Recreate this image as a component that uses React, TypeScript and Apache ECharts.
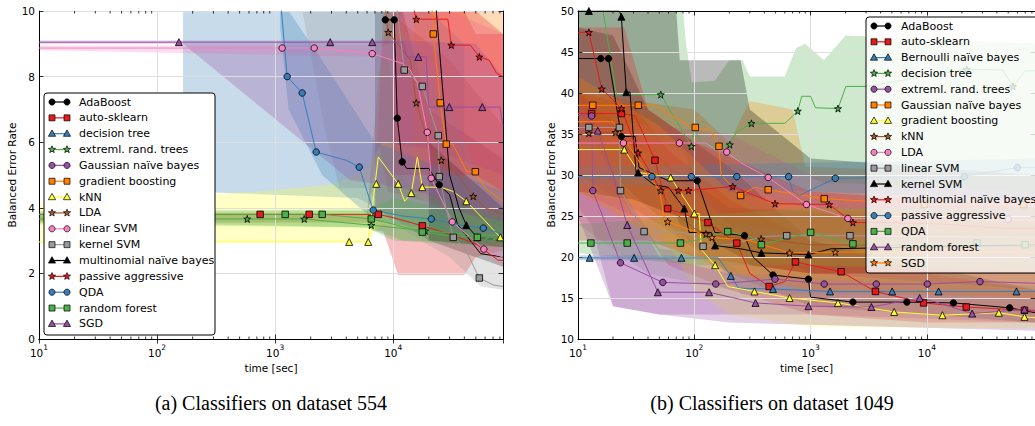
import React, { useEffect, useRef } from "react";
import * as echarts from "echarts";

type P = [number, number];
type B = [number, number, number];

const NAMES_A = ["AdaBoost", "auto-sklearn", "decision tree", "extreml. rand. trees", "Gaussian naïve bayes", "gradient boosting", "kNN", "LDA", "linear SVM", "kernel SVM", "multinomial naïve bayes", "passive aggressive", "QDA", "random forest", "SGD"];
const NAMES_B = ["AdaBoost", "auto-sklearn", "Bernoulli naïve bayes", "decision tree", "extreml. rand. trees", "Gaussian naïve bayes", "gradient boosting", "kNN", "LDA", "linear SVM", "kernel SVM", "multinomial naïve bayes", "passive aggressive", "QDA", "random forest", "SGD"];

const Y_A = { min: 0, max: 10, interval: 2 };
const Y_B = { min: 10, max: 50, interval: 5 };
const X_RANGE = { min: 10, max: 85000 };
const MINOR_TICKS = [20, 30, 40, 50, 60, 70, 80, 90, 200, 300, 400, 500, 600, 700, 800, 900, 2000, 3000, 4000, 5000, 6000, 7000, 8000, 9000, 20000, 30000, 40000, 50000, 60000, 70000, 80000];

// ---------- dataset 554 ----------
const A_ADA_L: P[] = [[8560, 9.73], [10190, 9.73], [10810, 6.73], [11910, 5.4], [13000, 5.2], [20000, 5.2], [24530, 4.7], [30000, 4.4], [35000, 3.5], [45000, 3.0], [55000, 2.6], [85000, 2.5]];
const A_ADA_M: P[] = [[8560, 9.73], [10190, 9.73], [10810, 6.73], [11910, 5.4], [24530, 4.7]];
const A_ADA_B: B[] = [[7000, 4.0, 10.5], [12000, 3.5, 10.5], [20000, 3.0, 7.0], [85000, 2.2, 5.5]];

const A_ASK_L: P[] = [[10, 3.8], [7470, 3.8], [10000, 3.7], [17620, 3.45], [30000, 3.2], [50000, 2.9], [77600, 2.4], [85000, 2.4]];
const A_ASK_M: P[] = [[746, 3.8], [1942, 3.8], [7470, 3.8], [17620, 3.45]];
const A_ASK_B: B[] = [[7000, 3.3, 4.0], [8200, 3.3, 10.5], [11000, 1.95, 10.5], [40000, 1.95, 10.5], [50000, 2.5, 9.3], [85000, 2.7, 9.3]];

const A_DT_L: P[] = [[166, 11], [85000, 11]];
const A_DT_M: P[] = [];
const A_DT_B: B[] = [[166, 7.1, 12], [175, 4.5, 12], [5000, 4.3, 12], [8000, 3.9, 12], [20000, 3.5, 11], [40000, 3.3, 9]];

const A_ERT_L: P[] = [[10, 3.66], [1762, 3.66], [6511, 3.47], [18670, 3.3], [40000, 3.2], [85000, 3.15]];
const A_ERT_M: P[] = [[580, 3.66], [1762, 3.66], [6511, 3.47], [18670, 3.3]];
const A_ERT_B: B[] = [[10, 3.5, 3.85], [6000, 3.4, 3.9], [12000, 3.0, 3.8], [85000, 2.9, 3.5]];

const A_GNB_L: P[] = [[5000, 11], [85000, 11]];
const A_GNB_M: P[] = [];
const A_GNB_B: B[] = [[5000, 10.5, 12], [85000, 10.5, 12]];

const A_GB_L: P[] = [[21000, 10.5], [21830, 9.3], [25010, 7.2], [28120, 5.94], [32000, 5.94], [42000, 5.1], [49540, 5.1], [60000, 4.6], [85000, 4.2]];
const A_GB_M: P[] = [[21830, 9.3], [25010, 7.2], [28120, 5.94], [49540, 5.1]];
const A_GB_B: B[] = [[15000, 4.5, 12], [40000, 3.5, 12], [85000, 3.0, 10]];

const A_KNN_L: P[] = [[10, 2.96], [6141, 2.96], [7470, 5.55], [11020, 4.73], [12500, 4.2], [14210, 4.45], [16000, 5.55], [17620, 4.63], [25000, 4.63], [32000, 4.5], [41570, 4.2], [60000, 3.6], [80700, 3.1], [85000, 3.05]];
const A_KNN_M: P[] = [[4237, 2.96], [6141, 2.96], [7180, 4.73], [11020, 4.73], [14210, 4.45], [17620, 4.63], [41570, 4.2], [80700, 3.1]];
const A_KNN_B: B[] = [[10, 2.96, 4.1], [700, 2.96, 4.5], [3000, 2.96, 4.7], [6000, 2.96, 5.2], [8000, 3.5, 6.0], [20000, 3.3, 5.8], [85000, 3.0, 5.0]];

const A_LDA_L: P[] = [[8000, 11], [9070, 9.35], [12000, 8.8], [14000, 8.5], [15670, 7.2], [18000, 6.5], [20000, 5.9], [25510, 5.45], [35000, 5.0], [47650, 4.35], [60000, 4.0], [85000, 3.8]];
const A_LDA_M: P[] = [[9070, 9.35], [15670, 7.2], [25510, 5.45], [47650, 4.35]];
const A_LDA_B: B[] = [[10, 3.55, 3.8], [6000, 3.55, 3.8], [7500, 6.0, 8.0], [9000, 4.5, 10.5], [30000, 4.0, 8.5], [85000, 3.4, 6.5]];

const A_LSVM_L: P[] = [[10, 8.87], [2141, 8.87], [5000, 8.75], [6640, 8.7], [12000, 8.4], [13930, 8.2], [16000, 7.8], [19420, 6.3], [20990, 4.9], [31600, 3.57], [45000, 3.1], [58500, 2.74], [70000, 2.6], [85000, 2.5]];
const A_LSVM_M: P[] = [[1146, 8.87], [2141, 8.87], [6640, 8.7], [19420, 6.3], [20990, 4.9], [31600, 3.57], [58500, 2.74]];
const A_LSVM_B: B[] = [[10, 8.8, 8.95], [9000, 8.6, 8.95], [12000, 5.0, 10.5], [30000, 3.2, 10.5], [85000, 2.2, 9.3]];

const A_KSVM_L: P[] = [[10000, 11], [12390, 8.2], [17620, 7.7], [24060, 6.2], [24530, 4.95], [28000, 4.0], [32240, 3.1], [40000, 2.8], [53570, 1.86], [70000, 1.65], [85000, 1.6]];
const A_KSVM_M: P[] = [[12390, 8.2], [17620, 7.7], [24060, 6.2], [24530, 4.95], [32240, 3.1], [53570, 1.86]];
const A_KSVM_B: B[] = [[1700, 10.5, 12], [2600, 6.5, 12], [3500, 4.6, 12], [6000, 4.6, 12], [10000, 3.5, 10], [30000, 2.5, 7], [55000, 1.6, 5], [85000, 1.5, 4]];

const A_MNB_L: P[] = [[22000, 11], [30000, 5.0], [36000, 4.0], [41570, 3.47], [51520, 3.1], [85000, 3.0]];
const A_MNB_M: P[] = [[41570, 3.47], [51520, 3.1]];
const A_MNB_B: B[] = [[20000, 3.0, 6], [85000, 2.8, 4]];

const A_PA_L: P[] = [[14000, 10.5], [15670, 9.75], [29000, 9.75], [31030, 8.96], [45000, 8.96], [53570, 8.6], [65000, 8.5], [75000, 8.1], [85000, 8.0]];
const A_PA_M: P[] = [[15670, 9.75], [31030, 8.96], [53570, 8.6]];
const A_PA_B: B[] = [[10000, 5, 12], [50000, 5, 10], [85000, 4.5, 9.3]];

const A_QDA_L: P[] = [[1100, 10.5], [1264, 8.0], [1694, 7.5], [2225, 5.7], [4000, 5.45], [5153, 5.24], [6000, 4.5], [6770, 3.93], [12000, 3.75], [20990, 3.66], [40000, 3.45], [57900, 3.38], [85000, 3.2]];
const A_QDA_M: P[] = [[1264, 8.0], [1694, 7.5], [2225, 5.7], [5153, 5.24], [6770, 3.93], [20990, 3.66], [57900, 3.38]];
const A_QDA_B: B[] = [[1100, 9.5, 11], [1300, 7.0, 10.5], [2500, 5.0, 8.5], [7000, 3.6, 6.0], [85000, 3.0, 4.5]];

const A_RF_L: P[] = [[10, 3.8], [2502, 3.8], [6511, 3.66], [10000, 3.5], [17620, 3.26], [30000, 3.15], [51520, 3.1], [85000, 3.0]];
const A_RF_M: P[] = [[1216, 3.8], [2502, 3.8], [6511, 3.66], [17620, 3.26], [51520, 3.1]];
const A_RF_B: B[] = [[10, 3.6, 3.9], [6000, 3.4, 3.95], [10000, 3.0, 4.3], [85000, 2.8, 3.6]];

const A_SGD_L: P[] = [[10, 9.05], [12150, 9.05], [13000, 8.6], [19000, 8.6], [20000, 7.07], [80000, 7.07], [85000, 6.5]];
const A_SGD_M: P[] = [[153, 9.05], [2925, 9.05], [6640, 9.05], [16290, 8.6], [29840, 7.07], [56760, 7.07]];
const A_SGD_B: B[] = [[10, 9.0, 9.1], [160, 9.0, 9.1], [166, 9.0, 9.1], [4300, 4.85, 9.1], [12000, 4.6, 9.1], [50000, 4.0, 9.0], [85000, 3.8, 8.0]];

// ---------- dataset 1049 ----------
const B_ADA_L: P[] = [[10, 44.2], [18.3, 44.2], [23.6, 34.7], [31, 34.7], [33.5, 30.9], [60, 29.3], [106, 29.3], [150, 23], [270, 22.6], [320, 20], [475, 17.8], [958, 17.3], [1000, 15.1], [2310, 14.5], [6730, 14.5], [16900, 14.4], [51500, 13.8], [85000, 13.2]];
const B_ADA_M: P[] = [[15.7, 44.2], [18.3, 44.2], [23.6, 34.7], [106, 29.3], [270, 22.6], [475, 17.8], [958, 17.3], [2310, 14.5], [6730, 14.5], [16900, 14.4], [51500, 13.8]];
const B_ADA_B: B[] = [[10, 38, 48], [20, 30, 47], [40, 26, 38], [200, 18, 31], [1000, 14, 22], [85000, 12, 16]];

const B_ASK_L: P[] = [[10, 37.5], [23.6, 37.5], [31, 37.2], [45.9, 31.8], [59, 25.9], [131, 24.2], [232, 21.7], [300, 18], [440, 16.4], [600, 17], [740, 19.4], [1000, 19], [1830, 18.2], [3610, 15.8], [9370, 14.4], [21800, 13.9], [69000, 13.5], [85000, 13.4]];
const B_ASK_M: P[] = [[13.1, 37.5], [23.6, 37.5], [45.9, 31.8], [59, 25.9], [131, 24.2], [232, 21.7], [440, 16.4], [740, 19.4], [1830, 18.2], [3610, 15.8], [9370, 14.4], [21800, 13.9], [69000, 13.5]];
const B_ASK_B: B[] = [[10, 28, 40], [30, 25, 38.5], [60, 19, 33], [200, 16, 27], [1000, 13, 22], [10000, 12, 18], [85000, 12, 16]];

const B_BNB_L: P[] = [[10, 19.9], [160, 19.9], [206, 17.7], [240, 16.2], [475, 16.1], [1470, 15.8], [85000, 15.8]];
const B_BNB_M: P[] = [[12.6, 19.9], [30.4, 19.9], [77.5, 19.9], [206, 17.7], [475, 16.1], [1470, 15.8], [5030, 15.8], [12600, 15.8], [58900, 15.8]];
const B_BNB_B: B[] = [[10, 19.6, 20.2], [150, 19.6, 20.2], [250, 15.5, 18], [85000, 15.3, 16.5]];

const B_DT_L: P[] = [[16, 51], [21.4, 39.8], [51.5, 39.8], [94.3, 33.5], [100, 35.5], [115, 34], [150, 33.5], [202, 33.7], [230, 35.2], [310, 36.3], [600, 36.3], [776, 37.8], [838, 39.6], [1000, 39.6], [1100, 38.2], [1720, 38.1], [2010, 40.8], [3000, 40.8], [15000, 42.5], [22000, 42.9], [45000, 42.8], [55000, 40.8], [70000, 42.7], [85000, 42.7]];
const B_DT_M: P[] = [[51.5, 39.8], [94.3, 33.5], [202, 33.7], [310, 36.3], [776, 37.8], [1720, 38.1], [22000, 42.9], [55000, 40.8]];
const B_DT_B: B[] = [[10, 38, 52], [80, 33, 52], [85, 32, 46], [95, 30, 41.3], [150, 30, 41.5], [200, 30, 44], [260, 30, 44], [300, 30, 42], [600, 30, 42], [750, 30, 45.5], [900, 30, 46], [1300, 29, 44], [2000, 29, 47], [85000, 28, 46]];

const B_ERT_L: P[] = [[10, 37.3], [13.1, 37.2], [13.4, 28.1], [23.2, 19.3], [53.6, 16.9], [153, 16.7], [494, 17.3], [1310, 16.7], [3670, 16.7], [10100, 16.7], [28600, 17.0], [85000, 16.8]];
const B_ERT_M: P[] = [[13.1, 37.2], [13.4, 28.1], [23.2, 19.3], [53.6, 16.9], [153, 16.7], [494, 17.3], [1310, 16.7], [3670, 16.7], [10100, 16.7], [28600, 17.0]];
const B_ERT_B: B[] = [[10, 26, 40], [13, 24, 39], [20, 14, 30], [50, 13, 21], [1000, 13, 19], [85000, 12, 19]];

const B_GNB_L: P[] = [[10, 38.5], [45, 38.5], [90, 36], [102, 35.8], [140, 35.4], [163, 33.5], [170, 30], [250, 27.5], [330, 28.5], [432, 28.2], [1310, 27.1], [9500, 26.4], [85000, 26.4]];
const B_GNB_M: P[] = [[13.4, 38.5], [33, 38.5], [102, 35.8], [163, 33.5], [250, 27.5], [432, 28.2], [1310, 27.1], [9500, 26.4], [68000, 26.4]];
const B_GNB_B: B[] = [[10, 34, 40], [100, 30, 38], [200, 24, 34], [300, 24, 39], [700, 23, 38], [900, 23, 31], [85000, 22, 30]];

const B_GB_L: P[] = [[10, 33.1], [25, 33.1], [33.5, 30.3], [62.6, 29.7], [75, 28], [100, 25.3], [110, 25.3], [115, 20.9], [151, 19.0], [194, 16.4], [329, 15.8], [660, 15.0], [1720, 14.4], [5230, 13.3], [13600, 12.9], [41500, 13.2], [69000, 12.7], [85000, 12.6]];
const B_GB_M: P[] = [[25, 33.1], [62.6, 29.7], [100, 25.3], [151, 19.0], [329, 15.8], [660, 15.0], [1720, 14.4], [5230, 13.3], [13600, 12.9], [41500, 13.2], [69000, 12.7]];
const B_GB_B: B[] = [[10, 28, 36], [40, 26, 33], [100, 16, 28], [200, 13, 24], [1000, 11.5, 18], [85000, 11.3, 16]];

const B_KNN_L: P[] = [[10, 35.1], [21, 35.2], [51.5, 28.1], [60, 26], [100, 23.5], [126, 22.8], [200, 22.4], [376, 22.2], [1000, 21.5], [85000, 21.3]];
const B_KNN_M: P[] = [[12.4, 35.1], [21, 35.2], [51.5, 28.1], [126, 22.8], [376, 22.2]];
const B_KNN_B: B[] = [[10, 30, 40], [50, 24, 32], [200, 18, 26], [85000, 16, 24]];

const B_LDA_L: P[] = [[10, 33.9], [125, 33.9], [150, 33.2], [190, 32.8], [250, 31.5], [432, 29.7], [921, 26.4], [2090, 24.7], [85000, 24.5]];
const B_LDA_M: P[] = [[24.6, 33.9], [74.5, 33.9], [190, 32.8], [432, 29.7], [921, 26.4], [2090, 24.7], [50000, 24.6]];
const B_LDA_B: B[] = [[10, 30, 37], [200, 28, 35], [1000, 22, 30], [85000, 21, 28]];

const B_LSVM_L: P[] = [[10, 35.8], [22.7, 35.8], [23.2, 28.1], [37, 23.1], [80, 23], [100, 22.5], [119, 21.3], [200, 21.5], [400, 22.5], [623, 22.6], [2180, 22.6], [85000, 22.4]];
const B_LSVM_M: P[] = [[12.4, 35.8], [22.7, 35.8], [23.2, 28.1], [37, 23.1], [119, 21.3], [623, 22.6], [2180, 22.6]];
const B_LSVM_B: B[] = [[10, 24, 38], [40, 18, 30], [200, 16, 26], [85000, 15, 25]];

const B_KSVM_L: P[] = [[10, 50], [22.7, 50], [23.6, 49.3], [26, 40.1], [28, 40.1], [31.6, 30.3], [32.9, 30.3], [45, 28.8], [60, 28.5], [82, 25.9], [90, 23], [140, 23], [151, 21.4], [250, 21], [377, 20.5], [958, 20.3], [1500, 21], [85000, 21.5]];
const B_KSVM_M: P[] = [[12.4, 50], [23.6, 49.3], [26, 40.1], [32.9, 30.3], [82, 25.9], [151, 21.4], [377, 20.5], [958, 20.3]];
const B_KSVM_B: B[] = [[10, 28, 52], [30, 27, 52], [70, 25, 52], [75, 24, 44], [250, 20, 44], [300, 19, 38], [1000, 18, 32], [85000, 18, 30]];

const B_MNB_L: P[] = [[10, 47.4], [12.4, 47.4], [16, 40.5], [23.6, 38.1], [32.9, 32.7], [35.5, 32], [50, 28.5], [73, 28.1], [89, 28.1], [214, 28.6], [494, 26.5], [1445, 26.4], [2310, 24.2], [4500, 24.2], [15000, 24], [45000, 23.5], [85000, 23.5]];
const B_MNB_M: P[] = [[12.4, 47.4], [16, 40.5], [23.6, 38.1], [32.9, 32.7], [73, 28.1], [89, 28.1], [214, 28.6], [494, 26.5], [1445, 26.4], [2310, 24.2]];
const B_MNB_B: B[] = [[10, 22, 48], [25, 22, 48], [40, 22, 38], [100, 20, 34], [1000, 18, 28], [85000, 18, 26]];

const B_PA_L: P[] = [[10, 29.8], [647, 29.8], [700, 28], [800, 27.5], [1630, 29.6], [20000, 29.8], [60000, 30.9], [85000, 30.9]];
const B_PA_M: P[] = [[43.2, 29.8], [94.3, 29.8], [232, 29.8], [647, 29.8], [1630, 29.6], [21000, 29.8], [60000, 30.9]];
const B_PA_B: B[] = [[10, 29, 31], [85000, 27, 32]];

const B_QDA_L: P[] = [[10, 21.7], [76, 21.7], [100, 22], [194, 23.1], [300, 22.5], [377, 21.5], [1000, 23], [2310, 21.6], [85000, 21.6]];
const B_QDA_M: P[] = [[12.9, 21.7], [26.5, 21.7], [76, 21.7], [194, 23.1], [377, 21.5], [1000, 23], [2310, 21.6], [27000, 21.7], [70000, 21.5]];
const B_QDA_B: B[] = [[10, 20.5, 24], [100, 19, 25], [1000, 19, 26], [85000, 18, 26]];

const B_RF_L: P[] = [[10, 35.4], [14.8, 35.4], [20, 30], [26.5, 23.9], [48.6, 15.7], [134, 15.7], [336, 14.4], [958, 14.0], [3330, 13.9], [8660, 15.0], [12000, 14.5], [24500, 13.1], [69000, 13.6], [85000, 13.5]];
const B_RF_M: P[] = [[14.8, 35.4], [26.5, 23.9], [48.6, 15.7], [134, 15.7], [336, 14.4], [958, 14.0], [3330, 13.9], [8660, 15.0], [24500, 13.1], [69000, 13.6]];
const B_RF_B: B[] = [[10, 25, 40], [20, 14, 30], [50, 13, 20], [200, 12, 18], [85000, 11, 16]];

const B_SGD_L: P[] = [[10, 36.5], [20, 36.5], [40, 30], [50, 28.2], [56, 24.3], [59, 24.3], [142, 22.4], [300, 22.0], [660, 20.5], [1630, 20.6], [85000, 20.6]];
const B_SGD_M: P[] = [[59, 24.3], [142, 22.4], [660, 20.5], [1630, 20.6]];
const B_SGD_B: B[] = [[10, 28, 42], [50, 22, 36], [200, 18, 28], [1000, 16, 26], [85000, 15, 25]];

// ---------- styles ----------
const C = { black: "#000000", red: "#e41a1c", blue: "#377eb8", green: "#4daf4a", purple: "#984ea3", orange: "#ff7f00", yellow: "#ffff33", brown: "#a65628", pink: "#f781bf", gray: "#999999" };
const STAR = "path://M50,0L61.8,35.1L98.1,35.1L68.8,56.8L79.4,91.4L50,70.2L20.6,91.4L31.2,56.8L1.9,35.1L38.2,35.1Z";
const FONT = "DejaVu Sans";

type Spec = { name: string; color: string; sym: string; line: P[]; marks: P[]; band: B[] };

const SPECS_A: Spec[] = [
  { name: NAMES_A[0], color: C.black, sym: "circle", line: A_ADA_L, marks: A_ADA_M, band: A_ADA_B },
  { name: NAMES_A[1], color: C.red, sym: "square", line: A_ASK_L, marks: A_ASK_M, band: A_ASK_B },
  { name: NAMES_A[2], color: C.blue, sym: "triangle", line: A_DT_L, marks: A_DT_M, band: A_DT_B },
  { name: NAMES_A[3], color: C.green, sym: "star", line: A_ERT_L, marks: A_ERT_M, band: A_ERT_B },
  { name: NAMES_A[4], color: C.purple, sym: "circle", line: A_GNB_L, marks: A_GNB_M, band: A_GNB_B },
  { name: NAMES_A[5], color: C.orange, sym: "square", line: A_GB_L, marks: A_GB_M, band: A_GB_B },
  { name: NAMES_A[6], color: C.yellow, sym: "triangle", line: A_KNN_L, marks: A_KNN_M, band: A_KNN_B },
  { name: NAMES_A[7], color: C.brown, sym: "star", line: A_LDA_L, marks: A_LDA_M, band: A_LDA_B },
  { name: NAMES_A[8], color: C.pink, sym: "circle", line: A_LSVM_L, marks: A_LSVM_M, band: A_LSVM_B },
  { name: NAMES_A[9], color: C.gray, sym: "square", line: A_KSVM_L, marks: A_KSVM_M, band: A_KSVM_B },
  { name: NAMES_A[10], color: C.black, sym: "triangle", line: A_MNB_L, marks: A_MNB_M, band: A_MNB_B },
  { name: NAMES_A[11], color: C.red, sym: "star", line: A_PA_L, marks: A_PA_M, band: A_PA_B },
  { name: NAMES_A[12], color: C.blue, sym: "circle", line: A_QDA_L, marks: A_QDA_M, band: A_QDA_B },
  { name: NAMES_A[13], color: C.green, sym: "square", line: A_RF_L, marks: A_RF_M, band: A_RF_B },
  { name: NAMES_A[14], color: C.purple, sym: "triangle", line: A_SGD_L, marks: A_SGD_M, band: A_SGD_B },
];

const SPECS_B: Spec[] = [
  { name: NAMES_B[0], color: C.black, sym: "circle", line: B_ADA_L, marks: B_ADA_M, band: B_ADA_B },
  { name: NAMES_B[1], color: C.red, sym: "square", line: B_ASK_L, marks: B_ASK_M, band: B_ASK_B },
  { name: NAMES_B[2], color: C.blue, sym: "triangle", line: B_BNB_L, marks: B_BNB_M, band: B_BNB_B },
  { name: NAMES_B[3], color: C.green, sym: "star", line: B_DT_L, marks: B_DT_M, band: B_DT_B },
  { name: NAMES_B[4], color: C.purple, sym: "circle", line: B_ERT_L, marks: B_ERT_M, band: B_ERT_B },
  { name: NAMES_B[5], color: C.orange, sym: "square", line: B_GNB_L, marks: B_GNB_M, band: B_GNB_B },
  { name: NAMES_B[6], color: C.yellow, sym: "triangle", line: B_GB_L, marks: B_GB_M, band: B_GB_B },
  { name: NAMES_B[7], color: C.brown, sym: "star", line: B_KNN_L, marks: B_KNN_M, band: B_KNN_B },
  { name: NAMES_B[8], color: C.pink, sym: "circle", line: B_LDA_L, marks: B_LDA_M, band: B_LDA_B },
  { name: NAMES_B[9], color: C.gray, sym: "square", line: B_LSVM_L, marks: B_LSVM_M, band: B_LSVM_B },
  { name: NAMES_B[10], color: C.black, sym: "triangle", line: B_KSVM_L, marks: B_KSVM_M, band: B_KSVM_B },
  { name: NAMES_B[11], color: C.red, sym: "star", line: B_MNB_L, marks: B_MNB_M, band: B_MNB_B },
  { name: NAMES_B[12], color: C.blue, sym: "circle", line: B_PA_L, marks: B_PA_M, band: B_PA_B },
  { name: NAMES_B[13], color: C.green, sym: "square", line: B_QDA_L, marks: B_QDA_M, band: B_QDA_B },
  { name: NAMES_B[14], color: C.purple, sym: "triangle", line: B_RF_L, marks: B_RF_M, band: B_RF_B },
  { name: NAMES_B[15], color: C.orange, sym: "star", line: B_SGD_L, marks: B_SGD_M, band: B_SGD_B },
];

const SYMBOL: Record<string, string> = { circle: "circle", square: "rect", triangle: "triangle", star: STAR };
const SYMBOL_SIZE: Record<string, number> = { circle: 6.5, square: 6.5, triangle: 7, star: 7 };

function starPts(cx: number, cy: number, r: number) {
  const pts: number[][] = [];
  for (let i = 0; i < 10; i++) {
    const a = -Math.PI / 2 + (i * Math.PI) / 5;
    const rr = i % 2 === 0 ? r : r * 0.42;
    pts.push([cx + rr * Math.cos(a), cy + rr * Math.sin(a)]);
  }
  return pts;
}

function markerGraphic(sym: string, cx: number, cy: number, fill: string) {
  const style = { fill, stroke: "#000", lineWidth: 0.7 };
  if (sym === "circle") return { type: "circle", shape: { cx, cy, r: 3.1 }, style, z: 102 };
  if (sym === "square") return { type: "rect", shape: { x: cx - 3, y: cy - 3, width: 6, height: 6 }, style, z: 102 };
  if (sym === "triangle") return { type: "polygon", shape: { points: [[cx, cy - 3.8], [cx + 3.6, cy + 2.6], [cx - 3.6, cy + 2.6]] }, style, z: 102 };
  return { type: "polygon", shape: { points: starPts(cx, cy, 3.8) }, style, z: 102 };
}

function legendGraphics(specs: Spec[], box: { x: number; y: number; w: number; h: number; fill: string }, row0: number, step: number, m1: number, m2: number, tx: number) {
  const els: any[] = [
    { type: "rect", shape: { x: box.x, y: box.y, width: box.w, height: box.h, r: 3 }, style: { fill: box.fill, stroke: "#000", lineWidth: 1 }, z: 100 },
  ];
  specs.forEach((s, i) => {
    const cy = row0 + i * step;
    els.push({ type: "line", shape: { x1: m1, y1: cy, x2: m2, y2: cy }, style: { stroke: s.color, lineWidth: 1.2 }, z: 101 });
    els.push(markerGraphic(s.sym, m1, cy, s.color));
    els.push(markerGraphic(s.sym, m2, cy, s.color));
    els.push({
      type: "text", x: tx, y: cy, z: 103,
      style: { text: s.name, fontSize: 11, fontFamily: FONT, fill: "#000", textAlign: "left", textVerticalAlign: "middle", align: "left", verticalAlign: "middle" },
    });
  });
  return els;
}

function logLabel(v: number) {
  const e = Math.log10(v);
  const r = Math.round(e);
  if (Math.abs(e - r) > 0.01) return "";
  return `{b|10}{s|${r}}`;
}

function buildSeries(specs: Spec[], idx: number, yMin: number, opacity: number) {
  const axes = { xAxisIndex: idx * 2, yAxisIndex: idx * 2 };
  const out: any[] = [];
  specs.forEach((s) => {
    const band = s.band;
    out.push({
      type: "custom", ...axes, z: 1, silent: true,
      data: band.map((b) => [b[0], b[1], b[2]]),
      encode: { x: 0, y: [1, 2] },
      renderItem: (params: any, api: any) => {
        if (params.dataIndex !== 0) return null;
        const cs = params.coordSys;
        const top = cs.y, bot = cs.y + cs.height, lft = cs.x, rgt = cs.x + cs.width;
        const cl = (p: number[]) => [Math.max(lft, Math.min(rgt, p[0])), Math.max(top, Math.min(bot, p[1]))];
        const up = band.map((b) => cl(api.coord([b[0], b[2]])));
        const dn = band.map((b) => cl(api.coord([b[0], b[1]]))).reverse();
        return { type: "polygon", shape: { points: up.concat(dn) }, style: { fill: s.color, opacity } };
      },
    });
  });
  specs.forEach((s) => {
    out.push({
      type: "line", ...axes, z: 3, name: s.name, data: s.line, symbol: "none", clip: true, silent: true,
      lineStyle: { color: s.color, width: 1 },
    });
  });
  specs.forEach((s) => {
    out.push({
      type: "scatter", ...axes, z: 4, name: s.name, data: s.marks, clip: true, silent: true,
      symbol: SYMBOL[s.sym], symbolSize: SYMBOL_SIZE[s.sym],
      itemStyle: { color: s.color, borderColor: "#000", borderWidth: 0.8, opacity: 1 },
    });
  });
  out.push({
    type: "custom", ...axes, z: 5, silent: true,
    data: MINOR_TICKS.map((t) => [t, yMin]),
    encode: { x: 0, y: 1 },
    renderItem: (params: any, api: any) => {
      const cs = params.coordSys;
      const x = api.coord([api.value(0), yMin])[0];
      const st = { stroke: "#000", lineWidth: 0.8 };
      return {
        type: "group",
        children: [
          { type: "line", shape: { x1: x, y1: cs.y + cs.height, x2: x, y2: cs.y + cs.height - 2.5 }, style: st },
          { type: "line", shape: { x1: x, y1: cs.y, x2: x, y2: cs.y + 2.5 }, style: st },
        ],
      };
    },
  });
  return out;
}

const axisLineStyle = { show: true, lineStyle: { color: "#000", width: 1 } };
const tickStyle = { show: true, inside: true, length: 4.5, lineStyle: { color: "#000", width: 0.8 } };
const labelText = { color: "#000", fontFamily: FONT, fontSize: 10.5 };

function xAxes(gridIndex: number) {
  return [
    {
      type: "log", logBase: 10, gridIndex, position: "bottom", ...X_RANGE, z: 2,
      axisLine: axisLineStyle, axisTick: tickStyle,
      splitLine: { show: true, lineStyle: { color: "#dedede", width: 1 } },
      axisLabel: {
        margin: 4, showMaxLabel: false, formatter: logLabel,
        rich: {
          b: { fontSize: 10.5, fontFamily: FONT, color: "#000", lineHeight: 15, verticalAlign: "bottom" },
          s: { fontSize: 7.5, fontFamily: FONT, color: "#000", lineHeight: 15, verticalAlign: "top" },
        },
      },
      name: "time [sec]", nameLocation: "middle", nameGap: 22, nameTextStyle: labelText,
    },
    {
      type: "log", logBase: 10, gridIndex, position: "top", ...X_RANGE, z: 2,
      axisLine: axisLineStyle, axisTick: tickStyle, splitLine: { show: false }, axisLabel: { show: false },
    },
  ];
}

function yAxes(gridIndex: number, r: { min: number; max: number; interval: number }) {
  return [
    {
      type: "value", gridIndex, position: "left", ...r, z: 2,
      axisLine: axisLineStyle, axisTick: tickStyle,
      splitLine: { show: true, lineStyle: { color: "#dedede", width: 1 } },
      axisLabel: { ...labelText, margin: 4 },
      name: "Balanced Error Rate", nameLocation: "middle", nameGap: 21, nameRotate: 90, nameTextStyle: labelText,
    },
    {
      type: "value", gridIndex, position: "right", ...r, z: 2,
      axisLine: axisLineStyle, axisTick: tickStyle, splitLine: { show: false }, axisLabel: { show: false },
    },
  ];
}

const CAPTIONS = ["(a) Classifiers on dataset 554", "(b) Classifiers on dataset 1049"];

export default function App() {
  const ref = useRef<HTMLDivElement>(null);
  useEffect(() => {
    if (!ref.current) return;
    const chart = echarts.init(ref.current, null, { renderer: "svg" });
    const capStyle = { fontSize: 20, fontFamily: "Liberation Serif", fill: "#000", textAlign: "center", textVerticalAlign: "middle", align: "center", verticalAlign: "middle" };
    const graphics: any[] = [
      ...legendGraphics(SPECS_A, { x: 44, y: 93, w: 171, h: 242, fill: "#ffffff" }, 102, 15.85, 52, 67, 79),
      ...legendGraphics(SPECS_B, { x: 866, y: 17, w: 200, h: 256, fill: "rgba(255,255,255,0.8)" }, 26, 15.8, 874, 888, 901),
      { type: "text", x: 271, y: 403, z: 100, style: { text: CAPTIONS[0], ...capStyle } },
      { type: "text", x: 772, y: 403, z: 100, style: { text: CAPTIONS[1], ...capStyle } },
    ];
    chart.setOption({
      animation: false,
      backgroundColor: "#ffffff",
      textStyle: { fontFamily: FONT },
      grid: [
        { left: 39, top: 11, width: 464, height: 328 },
        { left: 578, top: 11, width: 464, height: 328 },
      ],
      xAxis: [...xAxes(0), ...xAxes(1)],
      yAxis: [...yAxes(0, Y_A), ...yAxes(1, Y_B)],
      series: [...buildSeries(SPECS_A, 0, Y_A.min, 0.28), ...buildSeries(SPECS_B, 1, Y_B.min, 0.27)],
      graphic: { elements: graphics },
    });
    return () => chart.dispose();
  }, []);
  return <div ref={ref} style={{ position: "absolute", left: 0, top: 0, width: 1035, height: 426 }} />;
}
